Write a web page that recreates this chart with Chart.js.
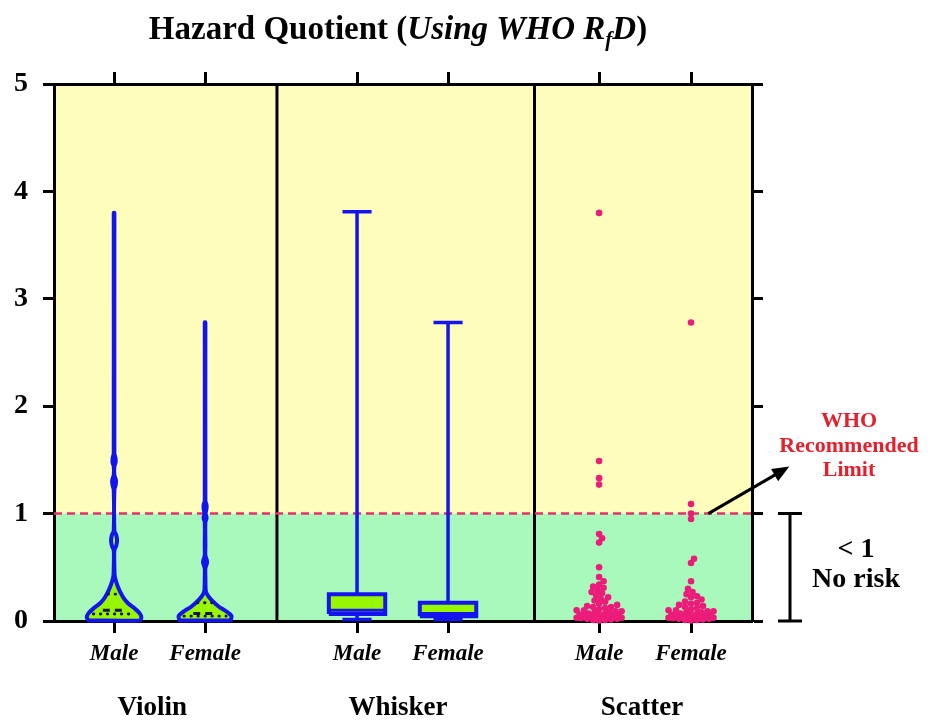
<!DOCTYPE html>
<html>
<head>
<meta charset="utf-8">
<title>Hazard Quotient (Using WHO RfD)</title>
<script src="https://cdn.jsdelivr.net/npm/chart.js@4.4.0/dist/chart.umd.min.js"></script>
<style>
  html, body { margin: 0; padding: 0; background: #fff; }
  #hqChart { display: block; }
</style>
</head>
<body>
<canvas id="hqChart" width="936" height="722"></canvas>
<script>
// ===== Data =====
const groups = ['Violin', 'Whisker', 'Scatter'];
const sexes = ['Male', 'Female'];
const yTicks = [0, 1, 2, 3, 4, 5];
const limitHQ = 1; // WHO recommended limit

// box / whisker stats, [male, female]
const boxMin = [0.015, 0.015];
const boxQ1 = [0.065, 0.045];
const boxMedian = [0.10, 0.07];
const boxQ3 = [0.25, 0.17];
const boxMax = [3.81, 2.78];

// violin outline: HQ level and relative width (1 = widest)
const violinMaleHQ = [0.005, 0.034, 0.071, 0.118, 0.165, 0.226, 0.32, 0.41, 0.50, 0.66, 0.70, 0.75, 0.80, 0.84,
  1.22, 1.27, 1.31, 1.36, 1.44, 1.48, 1.52, 1.56, 3.80];
const violinMaleWidth = [0.94, 1.00, 0.94, 0.75, 0.51, 0.32, 0.14, 0.03, 0.012, 0.012, 0.08, 0.11, 0.08, 0.012,
  0.012, 0.06, 0.07, 0.012, 0.012, 0.06, 0.05, 0.012, 0.012];
const violinFemaleHQ = [0.005, 0.016, 0.047, 0.087, 0.133, 0.196, 0.26, 0.30, 0.40, 0.49, 0.55, 0.61, 0.70,
  0.92, 0.96, 1.00, 1.04, 1.08, 1.12, 2.78];
const violinFemaleWidth = [0.93, 0.95, 0.97, 0.79, 0.51, 0.23, 0.05, 0.02, 0.012, 0.012, 0.075, 0.012, 0.012,
  0.012, 0.055, 0.02, 0.05, 0.055, 0.012, 0.012];

// individual HQ values (Scatter panel)
const hqMale = [3.80, 1.49, 1.33, 1.27, 0.81, 0.77, 0.73, 0.50, 0.41, 0.37, 0.34, 0.32, 0.31, 0.29, 0.27, 0.26,
  0.24, 0.22, 0.21, 0.19, 0.18, 0.16, 0.15, 0.14, 0.13, 0.13, 0.12, 0.11, 0.10, 0.10, 0.09, 0.09, 0.08, 0.08,
  0.07, 0.07, 0.06, 0.06, 0.055, 0.05, 0.05, 0.045, 0.04, 0.04, 0.035, 0.03, 0.03, 0.025, 0.02, 0.02, 0.015,
  0.01, 0.01, 0.005];
const hqFemale = [2.78, 1.09, 1.00, 0.95, 0.58, 0.54, 0.37, 0.30, 0.27, 0.25, 0.23, 0.22, 0.20, 0.18, 0.17, 0.16,
  0.15, 0.14, 0.13, 0.12, 0.11, 0.10, 0.10, 0.09, 0.09, 0.08, 0.08, 0.07, 0.07, 0.06, 0.06, 0.055, 0.05, 0.05,
  0.045, 0.04, 0.04, 0.035, 0.03, 0.03, 0.025, 0.02, 0.02, 0.015, 0.01, 0.01, 0.005];

// ===== Layout (x in "category" units, 1 = Male->Female spacing) =====
const X_MIN = -0.66, X_MAX = 7.01;
const catPositions = [0, 1, 2.67, 3.67, 5.33, 6.34];
const panelEdges = [1.79, 4.62];
const groupLabelX = [0.42, 3.12, 5.80];
const VIOLIN_HW = 0.30;
const BOX_HW = 0.31;
const CAP_HW = 0.16;
const X_PX = 91, Y_PX = 107.4; // approx px per unit, only for the swarm layout
const SWARM_GAP = 5;     // wanted px between dot centres
const SWARM_SPREAD = 23; // max px sideways from the category centre

const SERIF = '"Liberation Serif", "Times New Roman", serif';
const blue = '#1414EE';
const lime = '#97F700';
const navy = '#15155A';
const pink = '#EC1C7A';
const yellow = '#FFFDBB';
const green = '#AAF9BC';

// bounded beeswarm: take the nearest free slot, or the least crowded one if none is free
function swarm(values, center) {
  const placed = [];
  const offsets = [0];
  for (let d = 1.5; d <= SWARM_SPREAD; d += 1.5) offsets.push(d, -d);
  return values.slice().sort((a, b) => a - b).map(v => {
    const py = v * Y_PX;
    let best = 0, bestDist = -1;
    for (const off of offsets) {
      const dmin = placed.reduce((m, p) => Math.min(m, Math.hypot(p.x - off, p.y - py)), Infinity);
      if (dmin >= SWARM_GAP) { best = off; break; }
      if (dmin > bestDist) { bestDist = dmin; best = off; }
    }
    placed.push({ x: best, y: py });
    return { x: center + best / X_PX, y: v };
  });
}

function violinOutline(center, hq, width) {
  const left = hq.map((v, i) => ({ x: center - width[i] * VIOLIN_HW, y: v }));
  const right = hq.map((v, i) => ({ x: center + width[i] * VIOLIN_HW, y: v })).reverse();
  return left.concat(right, [left[0]]);
}

function widthAt(hq, width, v) {
  for (let i = 1; i < hq.length; i++) {
    if (v <= hq[i]) {
      const t = (v - hq[i - 1]) / (hq[i] - hq[i - 1]);
      return width[i - 1] + t * (width[i] - width[i - 1]);
    }
  }
  return width[width.length - 1];
}

const gap = { x: null, y: null };
const datasets = [];

// scatter dots
[hqMale, hqFemale].forEach((vals, i) => {
  datasets.push({
    label: 'Scatter ' + sexes[i],
    data: swarm(vals, catPositions[4 + i]),
    pointRadius: 3.3, pointBackgroundColor: pink, pointBorderWidth: 0,
    clip: false
  });
});

// violins (stats marks first so they sit on top)
const violinProfiles = [[violinMaleHQ, violinMaleWidth], [violinFemaleHQ, violinFemaleWidth]];
violinProfiles.forEach(([hq, w], i) => {
  const c = catPositions[i];
  const half = v => widthAt(hq, w, v) * VIOLIN_HW;
  const med = boxMedian[i];
  datasets.push({
    label: 'Violin median ' + sexes[i],
    data: [{ x: c - half(med) * 0.5, y: med }, { x: c + half(med) * 0.5, y: med }],
    showLine: true, pointRadius: 0, borderColor: navy, borderWidth: 3, borderDash: [7, 5], clip: false
  });
  const quart = [];
  [boxQ1[i], boxQ3[i]].forEach(q => {
    quart.push({ x: c - half(q) * 0.8, y: q }, { x: c + half(q) * 0.8, y: q }, gap);
  });
  datasets.push({
    label: 'Violin quartiles ' + sexes[i],
    data: quart,
    showLine: true, pointRadius: 0, borderColor: navy, borderWidth: 2.8,
    borderDash: [0.5, 6.5], borderCapStyle: 'round', clip: false
  });
  datasets.push({
    label: 'Violin ' + sexes[i],
    data: violinOutline(c, hq, w),
    showLine: true, pointRadius: 0, borderColor: blue, borderWidth: 4,
    backgroundColor: lime, fill: 'shape', tension: 0.3,
    borderJoinStyle: 'round', borderCapStyle: 'round', clip: false
  });
});

// box & whisker
[0, 1].forEach(i => {
  const c = catPositions[2 + i];
  datasets.push({
    label: 'Median ' + sexes[i],
    data: [{ x: c - BOX_HW, y: boxMedian[i] }, { x: c + BOX_HW, y: boxMedian[i] }],
    showLine: true, pointRadius: 0, borderColor: blue, borderWidth: 3, tension: 0.001, clip: false
  });
  datasets.push({
    label: 'Box ' + sexes[i],
    data: [
      { x: c - BOX_HW, y: boxQ1[i] }, { x: c + BOX_HW, y: boxQ1[i] },
      { x: c + BOX_HW, y: boxQ3[i] }, { x: c - BOX_HW, y: boxQ3[i] },
      { x: c - BOX_HW, y: boxQ1[i] }
    ],
    showLine: true, pointRadius: 0, borderColor: blue, borderWidth: 4,
    backgroundColor: lime, fill: 'shape', tension: 0.001, borderJoinStyle: 'miter', clip: false
  });
  datasets.push({
    label: 'Whisker ' + sexes[i],
    data: [
      { x: c, y: boxMin[i] }, { x: c, y: boxMax[i] }, gap,
      { x: c - CAP_HW, y: boxMax[i] }, { x: c + CAP_HW, y: boxMax[i] }, gap,
      { x: c - CAP_HW, y: boxMin[i] }, { x: c + CAP_HW, y: boxMin[i] }
    ],
    showLine: true, pointRadius: 0, borderColor: blue, borderWidth: 3.5, tension: 0.001, clip: false
  });
});

// WHO limit line
datasets.push({
  label: 'WHO limit',
  data: [{ x: X_MIN, y: limitHQ }, { x: X_MAX, y: limitHQ }],
  showLine: true, pointRadius: 0, borderColor: '#E5306A', borderWidth: 2.5, borderDash: [8, 5]
});

// ===== Backgrounds, panels, title, notes =====
const decorations = {
  id: 'decorations',
  beforeDraw(chart) {
    const { ctx, chartArea: a, scales: { y } } = chart;
    const yLim = y.getPixelForValue(limitHQ);
    ctx.save();
    ctx.fillStyle = '#fff';
    ctx.fillRect(0, 0, chart.width, chart.height);
    ctx.fillStyle = yellow;
    ctx.fillRect(a.left, a.top, a.width, yLim - a.top);
    ctx.fillStyle = green;
    ctx.fillRect(a.left, yLim, a.width, a.bottom - yLim);
    ctx.restore();
  },
  beforeDatasetsDraw(chart) {
    const { ctx, chartArea: a, scales: { x } } = chart;
    ctx.save();
    ctx.strokeStyle = '#000';
    ctx.lineWidth = 3;
    panelEdges.forEach(e => {
      const px = x.getPixelForValue(e);
      ctx.beginPath();
      ctx.moveTo(px, a.top);
      ctx.lineTo(px, a.bottom);
      ctx.stroke();
    });
    ctx.restore();
  },
  afterDraw(chart) {
    const { ctx, chartArea: a, scales: { x, y } } = chart;
    ctx.save();
    ctx.fillStyle = '#000';
    ctx.textBaseline = 'alphabetic';

    // title with italic R_f D
    const parts = [
      { text: 'Hazard Quotient (', font: 'bold 33px ' + SERIF, dy: 0 },
      { text: 'Using WHO R', font: 'italic bold 33px ' + SERIF, dy: 0 },
      { text: 'f', font: 'italic bold 21px ' + SERIF, dy: 7 },
      { text: 'D', font: 'italic bold 33px ' + SERIF, dy: 0 },
      { text: ')', font: 'bold 33px ' + SERIF, dy: 0 }
    ];
    let total = 0;
    parts.forEach(p => { ctx.font = p.font; p.w = ctx.measureText(p.text).width; total += p.w; });
    let tx = (a.left + a.right) / 2 - 5 - total / 2;
    ctx.textAlign = 'left';
    parts.forEach(p => { ctx.font = p.font; ctx.fillText(p.text, tx, 39 + p.dy); tx += p.w; });

    // group names under the panels
    ctx.textAlign = 'center';
    ctx.font = 'bold 27px ' + SERIF;
    groups.forEach((g, i) => ctx.fillText(g, x.getPixelForValue(groupLabelX[i]), 715));

    // arrow from the limit line to the note
    const y1 = y.getPixelForValue(limitHQ);
    const x0 = x.getPixelForValue(6.53);
    const tip = { x: x0 + 81, y: y1 - 47 };
    const ang = Math.atan2(tip.y - y1, tip.x - x0);
    ctx.strokeStyle = '#000';
    ctx.lineWidth = 3;
    ctx.beginPath();
    ctx.moveTo(x0, y1);
    ctx.lineTo(tip.x - 12 * Math.cos(ang), tip.y - 12 * Math.sin(ang));
    ctx.stroke();
    ctx.beginPath();
    ctx.moveTo(tip.x, tip.y);
    ctx.lineTo(tip.x - 17 * Math.cos(ang) + 7 * Math.sin(ang), tip.y - 17 * Math.sin(ang) - 7 * Math.cos(ang));
    ctx.lineTo(tip.x - 17 * Math.cos(ang) - 7 * Math.sin(ang), tip.y - 17 * Math.sin(ang) + 7 * Math.cos(ang));
    ctx.closePath();
    ctx.fill();

    // bracket for < 1
    const bx = a.right + 38;
    const y0 = y.getPixelForValue(0);
    ctx.beginPath();
    ctx.moveTo(bx - 12, y1); ctx.lineTo(bx + 12, y1);
    ctx.moveTo(bx, y1); ctx.lineTo(bx, y0);
    ctx.moveTo(bx - 12, y0); ctx.lineTo(bx + 12, y0);
    ctx.stroke();

    ctx.font = 'bold 28px ' + SERIF;
    ctx.fillText('< 1', 856, 557);
    ctx.fillText('No risk', 856, 587);

    ctx.fillStyle = '#E3202C';
    ctx.font = 'bold 22px ' + SERIF;
    ctx.fillText('WHO', 849, 427);
    ctx.fillText('Recommended', 849, 452);
    ctx.fillText('Limit', 849, 476);
    ctx.restore();
  }
};

const tickGrid = { drawOnChartArea: false, drawTicks: true, tickWidth: 3, tickColor: '#000' };
const axisBorder = { display: true, width: 3, color: '#000' };
const setCatTicks = s => { s.ticks = catPositions.map(v => ({ value: v })); };

const ctx = document.getElementById('hqChart').getContext('2d');
const hqChart = new Chart(ctx, {
  type: 'scatter',
  data: { datasets },
  plugins: [decorations],
  options: {
    responsive: false,
    animation: false,
    events: [],
    layout: { padding: { top: 84, right: 184, bottom: 0, left: 0 } },
    plugins: { legend: { display: false }, tooltip: { enabled: false }, title: { display: false } },
    scales: {
      x: {
        type: 'linear', position: 'bottom', min: X_MIN, max: X_MAX,
        afterBuildTicks: setCatTicks,
        afterFit: s => { s.height = 101; },
        ticks: {
          autoSkip: false, maxRotation: 0, padding: 7, color: '#000',
          font: { family: SERIF, size: 23, style: 'italic', weight: 'bold' },
          callback: (val, i) => sexes[i % 2]
        },
        grid: { ...tickGrid, tickLength: 12 },
        border: axisBorder
      },
      x2: {
        type: 'linear', axis: 'x', position: 'top', min: X_MIN, max: X_MAX,
        afterBuildTicks: setCatTicks,
        afterFit: s => { s.height = 0; },
        ticks: { display: false },
        grid: { ...tickGrid, tickLength: 12 },
        border: axisBorder
      },
      y: {
        type: 'linear', position: 'left', min: 0, max: 5,
        afterBuildTicks: s => { s.ticks = yTicks.map(v => ({ value: v })); },
        afterFit: s => { s.width = 54; },
        ticks: { padding: 15, color: '#000', font: { family: SERIF, size: 28, weight: 'bold' } },
        grid: { ...tickGrid, tickLength: 11 },
        border: axisBorder
      },
      y2: {
        type: 'linear', axis: 'y', position: 'right', min: 0, max: 5,
        afterBuildTicks: s => { s.ticks = yTicks.map(v => ({ value: v })); },
        afterFit: s => { s.width = 0; },
        ticks: { display: false },
        grid: { ...tickGrid, tickLength: 11 },
        border: axisBorder
      }
    }
  }
});
</script>
</body>
</html>
